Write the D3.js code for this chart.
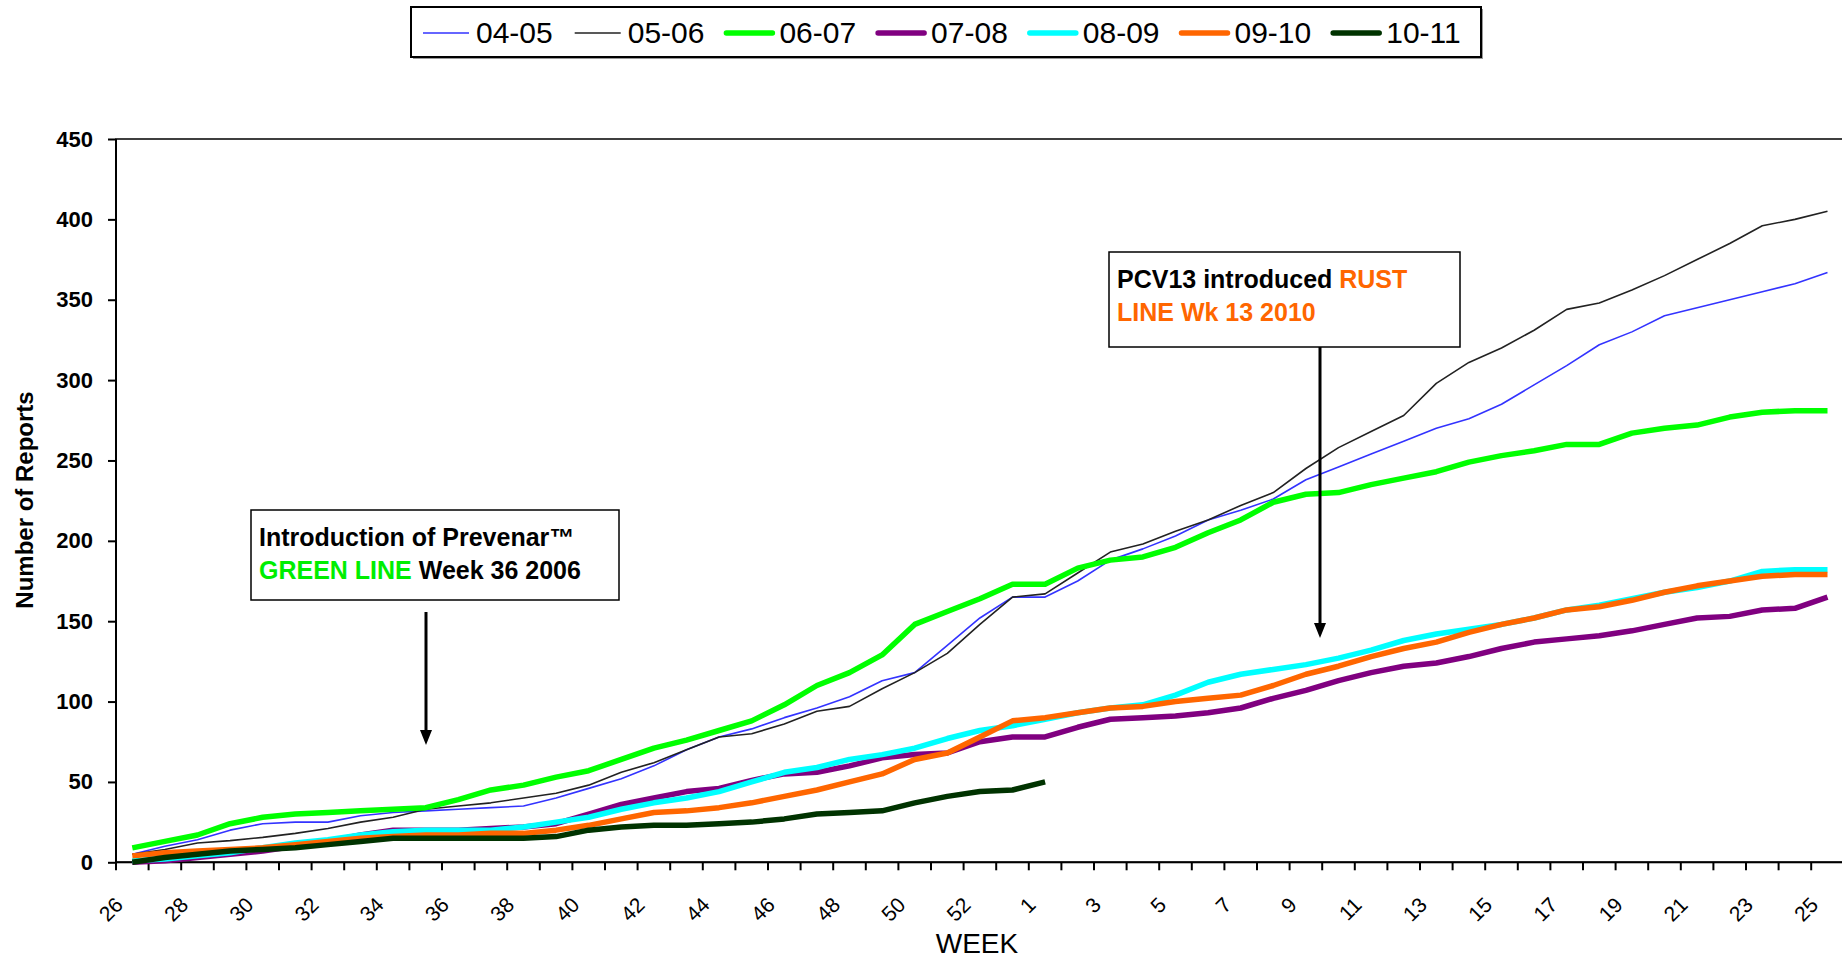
<!DOCTYPE html>
<head>
    <title>Reports by week</title>
    <meta charset="utf-8">
    <script src="https://d3js.org/d3.v7.min.js"></script>
    <style>
        body {
            margin: 0;
            background: #fff;
            font-family: "Liberation Sans", Arial, sans-serif;
        }

        svg {
            display: block;
        }

        .axis path {
            display: none;
        }

        .axis line {
            stroke: #000;
            stroke-width: 2px;
        }

        .y.axis text {
            font-size: 22px;
            font-weight: bold;
            fill: #000;
        }

        .x.axis text {
            font-size: 21px;
            fill: #000;
        }

        .legend text {
            font-size: 30px;
        }

        .note text {
            font-size: 25px;
            font-weight: bold;
        }
    </style>
</head>

<body>
    <svg id="chart" width="1842" height="963"></svg>
    <script type="text/javascript">
        // week categories (season runs week 26 to week 25 of next year)
        var weeks = [26, 27, 28, 29, 30, 31, 32, 33, 34, 35, 36, 37, 38, 39, 40, 41, 42, 43, 44, 45,
            46, 47, 48, 49, 50, 51, 52, 53, 1, 2, 3, 4, 5, 6, 7, 8, 9, 10, 11, 12, 13, 14, 15, 16,
            17, 18, 19, 20, 21, 22, 23, 24, 25];

        var seriesNames = ["04-05", "05-06", "06-07", "07-08", "08-09", "09-10", "10-11"];

        var s0405 = [5, 10, 14, 20, 24, 25, 25, 29, 31, 32, 33, 34, 35, 40, 46, 52, 60, 70, 78, 83,
            90, 96, 103, 113, 118, 135, 152, 165, 165, 175, 188, 195, 203, 213, 219, 226, 238, 246,
            254, 262, 270, 276, 285, 297, 309, 322, 330, 340, 345, 350, 355, 360, 367];
        var s0506 = [5, 8, 12, 13.5, 15.5, 18, 21, 25, 28, 33, 35, 37, 40, 43, 48, 56, 62, 70, 78, 80,
            86, 94, 97, 108, 118, 130, 148, 165, 167, 180, 193, 198, 206, 213, 222, 230, 245, 258,
            268, 278, 298, 311, 320, 331, 344, 348, 356, 365, 375, 385, 396, 400, 405];
        var s0607 = [9, 13, 17, 24, 28, 30, 31, 32, 33, 34, 39, 45, 48, 53, 57, 64, 71, 76, 82, 88,
            98, 110, 118, 129, 148, 156, 164, 173, 173, 183, 188, 190, 196, 205, 213, 224, 229, 230,
            235, 239, 243, 249, 253, 256, 260, 260, 267, 270, 272, 277, 280, 281, 281];
        var s0708 = [0, 1, 3, 5, 7, 10, 13, 17, 20, 20, 20, 21, 22, 24, 30, 36, 40, 44, 46, 51,
            55, 56, 60, 65, 67, 68, 75, 78, 78, 84, 89, 90, 91, 93, 96, 102, 107, 113, 118, 122,
            124, 128, 133, 137, 139, 141, 144, 148, 152, 153, 157, 158, 165];
        var s0809 = [1, 2, 4, 6, 9, 12, 14, 17, 19, 20, 20, 20, 22, 25, 28, 33, 37, 40, 44, 50,
            56, 59, 64, 67, 71, 77, 82, 85, 89, 93, 96, 98, 104, 112, 117, 120, 123, 127, 132, 138,
            142, 145, 148, 152, 157, 160, 164, 168, 171, 175, 181, 182, 182];
        var s0910 = [4, 6, 7, 8, 9, 11, 13, 15, 16, 17, 17, 18, 18, 20, 23, 27, 31, 32, 34, 37,
            41, 45, 50, 55, 64, 68, 78, 88, 90, 93, 96, 97, 100, 102, 104, 110, 117, 122, 128, 133,
            137, 143, 148, 152, 157, 159, 163, 168, 172, 175, 178, 179, 179];
        var s1011 = [0, 3, 5, 7, 8, 9, 11, 13, 15, 15, 15, 15, 15, 16, 20, 22, 23, 23, 24, 25,
            27, 30, 31, 32, 37, 41, 44, 45, 50];

        var yTicks = [0, 50, 100, 150, 200, 250, 300, 350, 400, 450];

        var colors = ["#3333ff", "#222222", "#00ff00", "#800080", "#00ffff", "#ff6600", "#003300"];
        var widths = [1.6, 1.6, 5.5, 5.5, 5.5, 5.5, 5.5];
        var allSeries = [s0405, s0506, s0607, s0708, s0809, s0910, s1011];

        var svg = d3.select("#chart");
        var plotLeft = 116, plotTop = 139, plotBottom = 862.3, step = 32.6;

        var x = d3.scaleBand()
            .domain(weeks)
            .range([plotLeft, plotLeft + weeks.length * step])
            .paddingInner(0).paddingOuter(0);

        var y = d3.scaleLinear()
            .domain([0, 450])
            .range([plotBottom, plotTop]);

        // plot area border
        svg.append("rect")
            .attr("x", plotLeft).attr("y", plotTop)
            .attr("width", x.range()[1] - plotLeft)
            .attr("height", plotBottom - plotTop)
            .attr("fill", "none")
            .attr("stroke", "#000")
            .attr("stroke-width", 1.5);

        // y axis
        svg.append("g")
            .attr("class", "y axis")
            .attr("transform", "translate(" + plotLeft + ",0)")
            .call(d3.axisLeft(y).tickValues(yTicks).tickSize(8).tickPadding(15));

        // x axis labels, every other week
        var xAxis = svg.append("g")
            .attr("class", "x axis")
            .attr("transform", "translate(0," + plotBottom + ")")
            .call(d3.axisBottom(x)
                .tickValues(weeks.filter(function (d, i) { return i % 2 === 0; }))
                .tickSize(0));
        xAxis.selectAll("text")
            .attr("x", -8)
            .attr("y", 44)
            .attr("dy", null)
            .attr("text-anchor", "end")
            .attr("transform", "rotate(-45,-8,44)");

        // x tick marks sit between categories
        var bounds = weeks.map(function (w) { return x(w); }).concat([x.range()[1]]);
        svg.append("g").selectAll("line")
            .data(bounds)
            .enter().append("line")
            .attr("x1", function (d) { return d; })
            .attr("x2", function (d) { return d; })
            .attr("y1", plotBottom)
            .attr("y2", plotBottom + 8)
            .attr("stroke", "#000")
            .attr("stroke-width", 2);

        // axis lines
        svg.append("line")
            .attr("x1", plotLeft).attr("x2", x.range()[1])
            .attr("y1", plotBottom).attr("y2", plotBottom)
            .attr("stroke", "#000").attr("stroke-width", 2);
        svg.append("line")
            .attr("x1", plotLeft).attr("x2", plotLeft)
            .attr("y1", plotTop).attr("y2", plotBottom)
            .attr("stroke", "#000").attr("stroke-width", 2);

        // series lines
        var line = d3.line()
            .x(function (d, i) { return x(weeks[i]) + x.bandwidth() / 2; })
            .y(function (d) { return y(d); });

        svg.append("g").selectAll("path")
            .data(allSeries)
            .enter().append("path")
            .attr("d", line)
            .attr("fill", "none")
            .attr("stroke", function (d, i) { return colors[i]; })
            .attr("stroke-width", function (d, i) { return widths[i]; })
            .attr("stroke-linejoin", "round");

        // axis titles
        svg.append("text")
            .attr("transform", "translate(33,500) rotate(-90)")
            .attr("text-anchor", "middle")
            .style("font-size", "24px")
            .style("font-weight", "bold")
            .text("Number of Reports");

        svg.append("text")
            .attr("x", 977).attr("y", 953)
            .attr("text-anchor", "middle")
            .style("font-family", "'Liberation Sans Narrow', 'Arial Narrow', sans-serif")
            .style("font-size", "28px")
            .text("WEEK");

        // legend
        var legend = svg.append("g").attr("class", "legend");
        legend.append("rect")
            .attr("x", 413).attr("y", 9).attr("width", 1070).attr("height", 50)
            .attr("fill", "#999");
        legend.append("rect")
            .attr("x", 411).attr("y", 7).attr("width", 1070).attr("height", 50)
            .attr("fill", "#fff").attr("stroke", "#000").attr("stroke-width", 2);
        var item = legend.selectAll("g.item")
            .data(seriesNames)
            .enter().append("g")
            .attr("class", "item")
            .attr("transform", function (d, i) { return "translate(" + (423 + i * 151.7) + ",0)"; });
        item.append("line")
            .attr("x1", 0).attr("x2", 46)
            .attr("y1", 33).attr("y2", 33)
            .attr("stroke", function (d, i) { return colors[i]; })
            .attr("stroke-width", function (d, i) { return widths[i]; })
            .attr("stroke-linecap", function (d, i) { return widths[i] > 2 ? "round" : "butt"; });
        item.append("text")
            .attr("x", 53).attr("y", 43)
            .text(function (d) { return d; });

        // annotations
        function note(x0, y0, w, h, rows) {
            var g = svg.append("g").attr("class", "note");
            g.append("rect")
                .attr("x", x0).attr("y", y0).attr("width", w).attr("height", h)
                .attr("fill", "#fff").attr("stroke", "#000").attr("stroke-width", 1.5);
            rows.forEach(function (row, r) {
                var t = g.append("text")
                    .attr("x", x0 + 8).attr("y", y0 + 36 + r * 33);
                row.forEach(function (part) {
                    t.append("tspan").attr("fill", part[1]).text(part[0]);
                });
            });
        }

        function arrow(ax, y0, y1) {
            svg.append("line")
                .attr("x1", ax).attr("x2", ax)
                .attr("y1", y0).attr("y2", y1 - 12)
                .attr("stroke", "#000").attr("stroke-width", 3);
            svg.append("path")
                .attr("d", "M" + (ax - 6) + "," + (y1 - 15) + "L" + (ax + 6) + "," + (y1 - 15) + "L" + ax + "," + y1 + "Z")
                .attr("fill", "#000");
        }

        note(251, 510, 368, 90, [
            [["Introduction of Prevenar\u2122", "#000"]],
            [["GREEN LINE", "#00ee00"], [" Week 36 2006", "#000"]]
        ]);
        arrow(426, 612, 745);

        note(1109, 252, 351, 95, [
            [["PCV13 introduced ", "#000"], ["RUST", "#ff6600"]],
            [["LINE Wk 13 2010", "#ff6600"]]
        ]);
        arrow(1320, 347, 638);
    </script>
</body>
